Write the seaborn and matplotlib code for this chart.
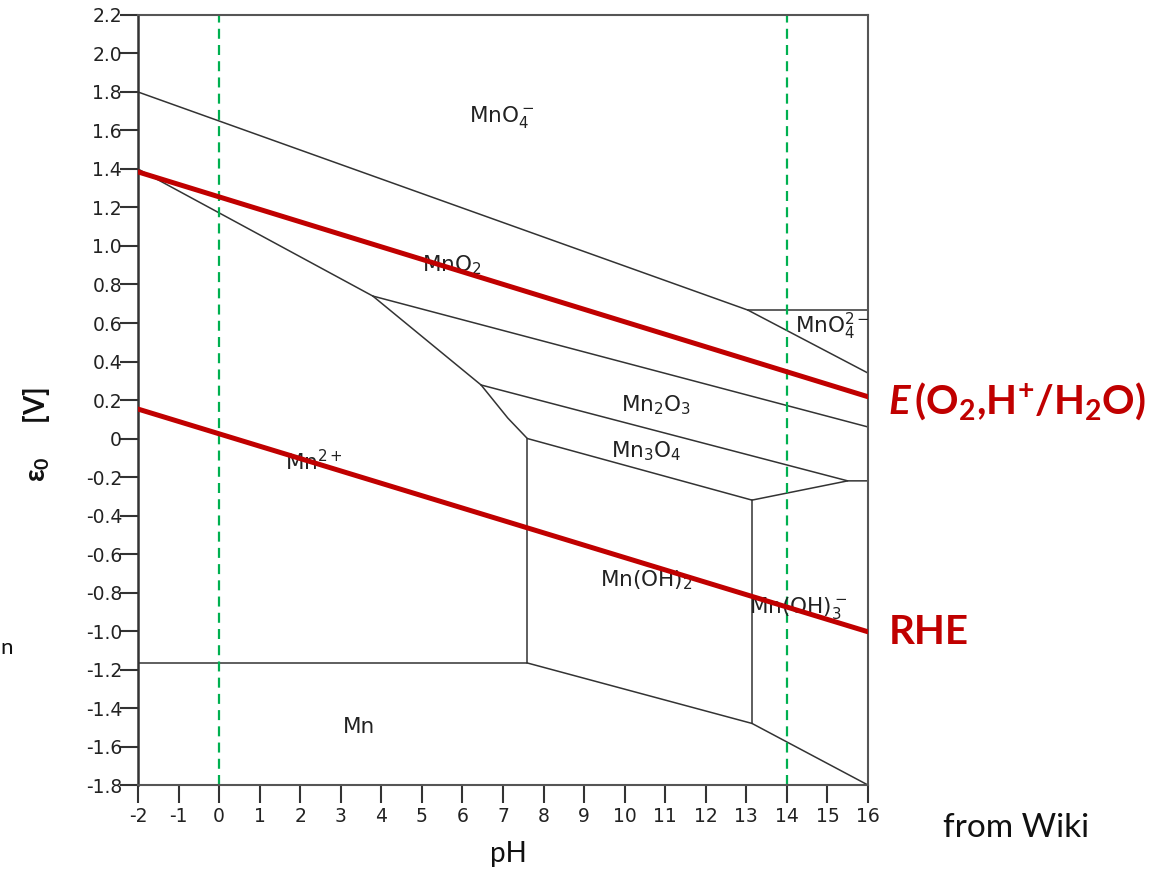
import numpy as np
import pandas as pd
import matplotlib
matplotlib.use('Agg')
import matplotlib.pyplot as plt
import seaborn as sns

# Mn Pourbaix diagram boundaries (pH, potential in V)
mno4_mno2_ph = [-2, 13.04]
mno4_mno2_e = [1.80, 0.667]
mno4_mno42_ph = [13.04, 16]
mno4_mno42_e = [0.667, 0.667]
mno42_mno2_ph = [13.04, 16]
mno42_mno2_e = [0.667, 0.34]
mno2_mn2_ph = [-2, 3.79]
mno2_mn2_e = [1.40, 0.74]
mn2o3_mn2_ph = [3.79, 6.46]
mn2o3_mn2_e = [0.74, 0.278]
mn3o4_mn2_ph = [6.46, 7.12, 7.6]
mn3o4_mn2_e = [0.278, 0.106, 0.0]
mno2_mn2o3_ph = [3.79, 16]
mno2_mn2o3_e = [0.74, 0.06]
mn2o3_mn3o4_ph = [6.46, 15.5, 16]
mn2o3_mn3o4_e = [0.278, -0.22, -0.22]
mn3o4_mnoh2_ph = [7.6, 13.14]
mn3o4_mnoh2_e = [0.0, -0.32]
mn3o4_mnoh3_ph = [13.14, 15.5]
mn3o4_mnoh3_e = [-0.32, -0.22]
mn2_mnoh2_ph = [7.6, 7.6]
mn2_mnoh2_e = [0.0, -1.166]
mnoh2_mnoh3_ph = [13.14, 13.14]
mnoh2_mnoh3_e = [-0.32, -1.48]
mn2_mn_ph = [-2, 7.6]
mn2_mn_e = [-1.166, -1.166]
mnoh2_mn_ph = [7.6, 13.14]
mnoh2_mn_e = [-1.166, -1.48]
mnoh3_mn_ph = [13.14, 16]
mnoh3_mn_e = [-1.48, -1.8]

# water / reference lines
oer_ph = [-2, 16]
oer_e = [1.385, 0.217]
rhe_ph = [-2, 16]
rhe_e = [0.153, -1.004]
ref_ph = [0, 14]

# region labels
region_text = ['MnO$_4^-$', 'MnO$_2$', 'MnO$_4^{2-}$', 'Mn$_2$O$_3$', 'Mn$_3$O$_4$',
               'Mn$^{2+}$', 'Mn(OH)$_2$', 'Mn(OH)$_3^-$', 'Mn']
region_ph = [6.97, 5.74, 15.13, 10.77, 10.52, 2.34, 10.52, 14.27, 3.45]
region_e = [1.67, 0.90, 0.58, 0.174, -0.065, -0.12, -0.735, -0.88, -1.50]

xtick_vals = list(range(-2, 17))
xtick_labels = ['-2', '-1', '0', '1', '2', '3', '4', '5', '6', '7', '8', '9',
                '10', '11', '12', '13', '14', '15', '16']
ytick_vals = [2.2, 2.0, 1.8, 1.6, 1.4, 1.2, 1.0, 0.8, 0.6, 0.4, 0.2, 0,
              -0.2, -0.4, -0.6, -0.8, -1.0, -1.2, -1.4, -1.6, -1.8]
ytick_labels = ['2.2', '2.0', '1.8', '1.6', '1.4', '1.2', '1.0', '0.8', '0.6', '0.4', '0.2', '0',
                '-0.2', '-0.4', '-0.6', '-0.8', '-1.0', '-1.2', '-1.4', '-1.6', '-1.8']

segs = [mno4_mno2_ph, mno4_mno42_ph, mno42_mno2_ph, mno2_mn2_ph, mn2o3_mn2_ph,
        mn3o4_mn2_ph, mno2_mn2o3_ph, mn2o3_mn3o4_ph, mn3o4_mnoh2_ph, mn3o4_mnoh3_ph,
        mn2_mnoh2_ph, mnoh2_mnoh3_ph, mn2_mn_ph, mnoh2_mn_ph, mnoh3_mn_ph]
segs_e = [mno4_mno2_e, mno4_mno42_e, mno42_mno2_e, mno2_mn2_e, mn2o3_mn2_e,
          mn3o4_mn2_e, mno2_mn2o3_e, mn2o3_mn3o4_e, mn3o4_mnoh2_e, mn3o4_mnoh3_e,
          mn2_mnoh2_e, mnoh2_mnoh3_e, mn2_mn_e, mnoh2_mn_e, mnoh3_mn_e]

rows = []
for i, (xs, ys) in enumerate(zip(segs, segs_e)):
    for x, y in zip(xs, ys):
        rows.append({'seg': i, 'pH': x, 'E': y})
bdf = pd.DataFrame(rows)

rdf = pd.DataFrame({'line': ['oer'] * 2 + ['rhe'] * 2,
                    'pH': oer_ph + rhe_ph,
                    'E': oer_e + rhe_e})

sns.set_style('ticks')
plt.rcParams['font.family'] = ['DejaVu Sans']
plt.rcParams['mathtext.fontset'] = 'custom'
plt.rcParams['mathtext.rm'] = 'Lato:bold'
plt.rcParams['mathtext.it'] = 'Lato:italic:bold'
plt.rcParams['mathtext.bf'] = 'Lato:bold'

fig = plt.figure(figsize=(11.51, 8.71), dpi=100)
ax = fig.add_axes([0.1199, 0.0987, 0.6342, 0.8841])

sns.lineplot(data=bdf, x='pH', y='E', units='seg', estimator=None, sort=False,
             color='#333333', linewidth=1.1, ax=ax, legend=False)

for x in ref_ph:
    ax.axvline(x, color='#00b050', linewidth=1.6, dashes=(4.5, 2.8), zorder=2.5)

sns.lineplot(data=rdf, x='pH', y='E', hue='line', palette=['#c00000', '#c00000'],
             linewidth=3.6, ax=ax, legend=False, zorder=5)

for t, x, y in zip(region_text, region_ph, region_e):
    ax.text(x, y, t, ha='center', va='center', fontsize=15.5, color='#222222',
            math_fontfamily='dejavusans', zorder=3)

ax.set_xlim(-2, 16)
ax.set_ylim(-1.8, 2.2)
ax.set_xticks(xtick_vals)
ax.set_xticklabels(xtick_labels)
ax.set_yticks(ytick_vals)
ax.set_yticklabels(ytick_labels)
ax.set_xlabel('')
ax.set_ylabel('')
ax.tick_params(axis='y', length=13, width=1.5, color='#333333', pad=-1.5,
               labelsize=13.5, labelcolor='#222222')
ax.tick_params(axis='x', length=13, width=1.5, color='#333333', pad=3,
               labelsize=13.5, labelcolor='#222222')
for s in ax.spines.values():
    s.set_color('#555555')
    s.set_linewidth(1.5)
ax.spines['left'].set_color('#333333')
ax.spines['left'].set_linewidth(1.8)

# axis titles and annotations
fig.text(508 / 1151, 1 - 854 / 871, 'pH', ha='center', va='center',
         fontsize=20, family=['Lato', 'DejaVu Sans'], color='#111111')
fig.text(37 / 1151, 1 - 434 / 871, 'ε$_\\mathrm{0}$     [V]', rotation=90, ha='center',
         va='center', fontsize=20, fontweight='bold', family=['Lato', 'DejaVu Sans'],
         color='#111111', math_fontfamily='custom')
fig.text(888 / 1151, 1 - 401 / 871, '$\\mathit{E}$$\\,$(O$_\\mathrm{2}$,H$^\\mathrm{+}$/H$_\\mathrm{2}$O)',
         ha='left', va='center', fontsize=29, fontweight='bold', family=['Lato', 'DejaVu Sans'],
         color='#c00000', math_fontfamily='custom')
fig.text(889 / 1151, 1 - 633 / 871, 'RHE', ha='left', va='center', fontsize=29,
         fontweight='bold', family=['Lato', 'DejaVu Sans'], color='#c00000')
fig.text(943 / 1151, 1 - 828 / 871, 'from Wiki', ha='left', va='center', fontsize=24,
         family=['Lato', 'DejaVu Sans'], color='#111111')
fig.text(0.0, 1 - 648 / 871, 'n', ha='left', va='center', fontsize=16,
         family=['Lato', 'DejaVu Sans'], color='#111111')

fig.savefig('out.png', dpi=100)
